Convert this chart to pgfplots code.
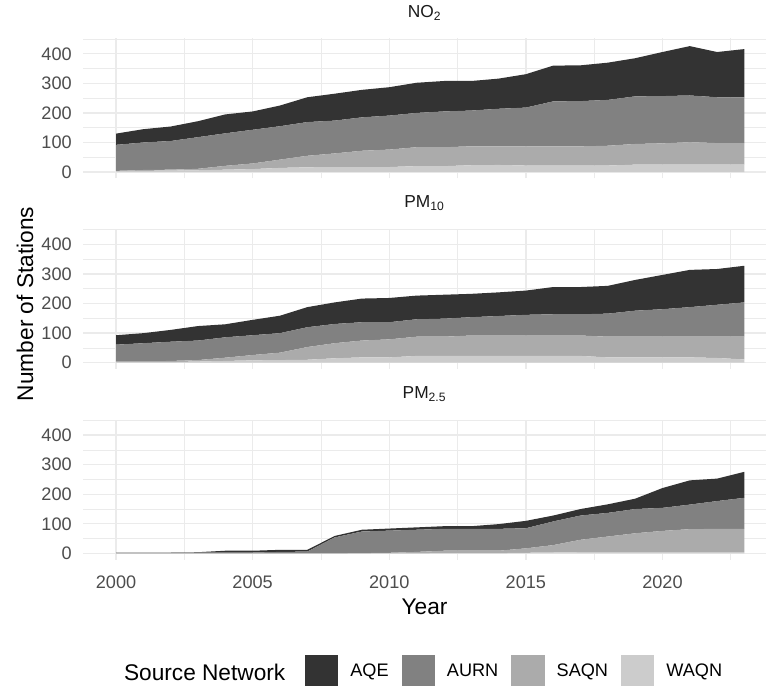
\documentclass[border=0pt]{standalone}
\usepackage{fontspec}
\setmainfont{Liberation Sans}
\usepackage{pgfplots}
\usepackage{pgfplotstable}
\pgfplotsset{compat=1.18}

\definecolor{cAQE}{HTML}{333333}
\definecolor{cAURN}{HTML}{818181}
\definecolor{cSAQN}{HTML}{ABABAB}
\definecolor{cWAQN}{HTML}{CCCCCC}
\definecolor{gridc}{HTML}{EBEBEB}
\definecolor{ticktext}{HTML}{4D4D4D}
\definecolor{striptext}{HTML}{1A1A1A}

% stations per network and year: W = WAQN, S = SAQN, A = AURN, Q = AQE
\pgfplotstableread{
year W S A Q
2000 2 2 88 38
2001 4 3 93 45
2002 5 3 97 49
2003 6 5 107 54
2004 8 13 110 64
2005 10 19 114 62
2006 14 28 113 70
2007 16 39 114 84
2008 17 46 111 91
2009 17 55 113 93
2010 17 59 115 96
2011 20 64 116 102
2012 20 64 121 103
2013 23 64 121 100
2014 24 63 127 102
2015 22 65 131 113
2016 22 65 152 121
2017 22 65 153 121
2018 22 67 155 126
2019 25 70 161 129
2020 25 72 160 149
2021 25 76 158 167
2022 25 73 155 153
2023 25 73 155 163
}\noxdata

\pgfplotstableread{
year W S A Q
2000 2 3 56 32
2001 2 3 61 34
2002 2 4 65 40
2003 4 5 66 49
2004 6 11 69 44
2005 8 18 67 52
2006 9 25 66 59
2007 10 43 67 68
2008 15 51 65 73
2009 18 57 62 80
2010 18 61 58 82
2011 23 65 59 80
2012 23 65 61 81
2013 23 69 62 79
2014 23 69 66 80
2015 23 69 70 82
2016 23 69 72 92
2017 23 69 72 92
2018 18 70 78 94
2019 18 70 88 104
2020 18 70 93 116
2021 18 70 100 126
2022 16 72 108 121
2023 11 77 116 124
}\pmtendata

\pgfplotstableread{
year W S A Q
2000 0 0 3 0
2001 0 0 3 0
2002 0 0 3 0
2003 0 0 3 1
2004 0 0 3 6
2005 0 0 3 6
2006 0 0 5 7
2007 0 0 6 6
2008 0 0 54 5
2009 0 1 73 6
2010 0 2 75 7
2011 0 5 75 8
2012 1 8 74 9
2013 1 8 74 9
2014 1 8 74 16
2015 2 15 68 25
2016 3 25 80 20
2017 4 42 82 22
2018 4 53 80 29
2019 4 64 82 35
2020 4 72 78 67
2021 4 78 83 82
2022 4 79 94 76
2023 4 79 105 88
}\pmtwofivedata

\newcommand{\ticksize}{\fontsize{13.6}{16}\selectfont}
\newcommand{\titlesize}{\fontsize{17}{20}\selectfont}

\pgfplotsset{
  panel/.style={
    scale only axis,
    width=512.25pt, height=105pt,
    anchor=north west,
    xmin=1998.79, xmax=2023.79,
    ymin=-21.5, ymax=452.1,
    axis line style={draw=none},
    major tick length=0pt, minor tick length=0pt,
    xtick={2000,2005,...,2020},
    minor xtick={2002.5,2007.5,2012.5,2017.5,2022.5},
    ytick={0,100,...,400},
    minor ytick={50,150,250,350,450},
    grid=both,
    major grid style={line width=1pt, color=gridc},
    minor grid style={line width=0.5pt, color=gridc},
    stack plots=y,
    /pgf/number format/assume math mode=true,
    /pgf/number format/set thousands separator={},
    yticklabel style={anchor=east, inner sep=0pt, xshift=-8.25pt,
      font=\ticksize, text=ticktext},
    xticklabel style={anchor=base, inner sep=0pt, yshift=-21.2pt,
      font=\ticksize, text=ticktext},
    title style={at={(0.5,1)}, anchor=base, yshift=10pt, inner sep=0pt,
      font=\fontsize{13}{15}\selectfont, text=striptext},
    legend image code/.code={%
      \path[#1, draw=none] (0pt,-12.5pt) rectangle (25pt,12.5pt);},
  },
}

\begin{document}
\begin{tikzpicture}
\path[use as bounding box] (0,0) rectangle (574.5pt,-513.75pt);

% NO2
\begin{axis}[panel, at={(62.25pt,-28.8pt)}, xticklabels={},
  title={NO\textsubscript{2}}]
\addplot[fill=cWAQN, draw=none, forget plot] table[x=year, y=W] {\noxdata} \closedcycle;
\addplot[fill=cSAQN, draw=none, forget plot] table[x=year, y=S] {\noxdata} \closedcycle;
\addplot[fill=cAURN, draw=none, forget plot] table[x=year, y=A] {\noxdata} \closedcycle;
\addplot[fill=cAQE, draw=none, forget plot] table[x=year, y=Q] {\noxdata} \closedcycle;
\end{axis}

% PM10
\begin{axis}[panel, at={(62.25pt,-171.8pt)}, xticklabels={},
  title={PM\textsubscript{10}}]
\addplot[fill=cWAQN, draw=none, forget plot] table[x=year, y=W] {\pmtendata} \closedcycle;
\addplot[fill=cSAQN, draw=none, forget plot] table[x=year, y=S] {\pmtendata} \closedcycle;
\addplot[fill=cAURN, draw=none, forget plot] table[x=year, y=A] {\pmtendata} \closedcycle;
\addplot[fill=cAQE, draw=none, forget plot] table[x=year, y=Q] {\pmtendata} \closedcycle;
\end{axis}

% PM2.5, carries the x axis and the legend
\begin{axis}[panel, at={(62.25pt,-314.8pt)},
  title={PM\textsubscript{2.5}},
  legend columns=4,
  legend style={at={(axis description cs:0.325,-0.7986)}, anchor=west,
    draw=none, fill=none, inner sep=0pt, outer sep=0pt,
    font=\ticksize, nodes={inner sep=0pt},
    /tikz/every odd column/.append style={column sep=9pt},
    /tikz/every even column/.append style={column sep=9.75pt}},
  legend cell align=left]
\addplot[fill=cWAQN, draw=none, forget plot] table[x=year, y=W] {\pmtwofivedata} \closedcycle;
\addplot[fill=cSAQN, draw=none, forget plot] table[x=year, y=S] {\pmtwofivedata} \closedcycle;
\addplot[fill=cAURN, draw=none, forget plot] table[x=year, y=A] {\pmtwofivedata} \closedcycle;
\addplot[fill=cAQE, draw=none, forget plot] table[x=year, y=Q] {\pmtwofivedata} \closedcycle;
\addlegendimage{fill=cAQE}\addlegendentry{AQE}
\addlegendimage{fill=cAURN}\addlegendentry{AURN}
\addlegendimage{fill=cSAQN}\addlegendentry{SAQN}
\addlegendimage{fill=cWAQN}\addlegendentry{WAQN}
\end{axis}

% axis and legend titles
\node[anchor=base, font=\titlesize] at (318.4pt,-460.5pt) {Year};
\node[anchor=base, rotate=90, font=\titlesize] at (24.75pt,-228pt) {Number of Stations};
\node[anchor=base east, font=\titlesize] at (217.5pt,-510.5pt) {Source Network};
\end{tikzpicture}
\end{document}
